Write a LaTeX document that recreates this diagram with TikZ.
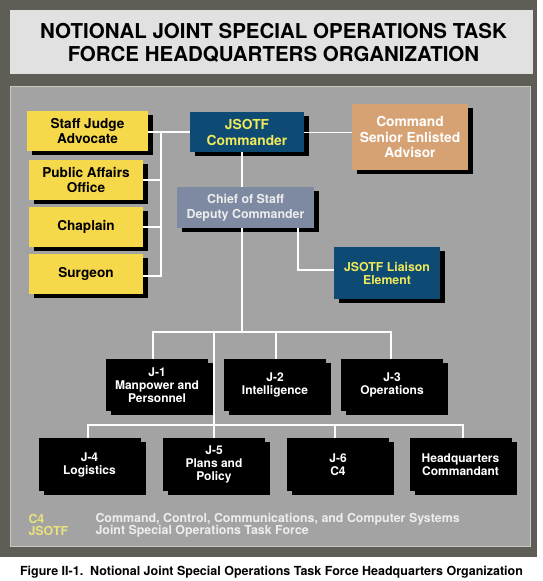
\documentclass[tikz,border=0pt]{standalone}
\usepackage{fontspec}
\setmainfont{TeX Gyre Heros}
\usetikzlibrary{shadows}
\definecolor{framec}{HTML}{5E5D56}
\definecolor{titlebg}{HTML}{E1E1E1}
\definecolor{panelc}{HTML}{A3A3A3}
\definecolor{paneledge}{HTML}{C9C9C2}
\definecolor{yellowbox}{HTML}{F6D84B}
\definecolor{bluebox}{HTML}{0D4A74}
\definecolor{tanbox}{HTML}{D7A273}
\definecolor{slatebox}{HTML}{7E89A2}
\definecolor{yellowtext}{HTML}{F0E95A}
\definecolor{legendyellow}{HTML}{E9E27E}
\definecolor{lighttext}{HTML}{EDEDED}
\tikzset{
  orgbox/.style={draw=none, align=center, inner sep=0pt, font=\bfseries,
    drop shadow={shadow xshift=5pt, shadow yshift=-4pt, fill=black, opacity=1}},
  yellowb/.style={orgbox, fill=yellowbox, text=black, minimum width=114pt, minimum height=40pt,
    font=\fontsize{13.6}{15}\selectfont\bfseries},
  blackb/.style={orgbox, fill=black, text=white, minimum width=102pt, minimum height=52pt,
    font=\fontsize{12}{13}\selectfont\bfseries},
  conn/.style={draw=white, line width=1.6pt},
}
\begin{document}
\begin{tikzpicture}[x=1pt,y=-1pt]
\useasboundingbox (0,0) rectangle (543,581);
\fill[white] (0,0) rectangle (543,581);
\fill[framec] (0,0) rectangle (537,557);
\fill[titlebg] (10,10) rectangle (533,74);
\filldraw[fill=panelc, draw=paneledge, line width=0.8pt] (10.4,86.4) rectangle (530.6,546.6);

\node[align=center, font=\fontsize{20.5}{22.8}\selectfont\bfseries] (title) at (273.5,43)
  {NOTIONAL JOINT SPECIAL OPERATIONS TASK\\FORCE HEADQUARTERS ORGANIZATION};

% left staff
\node[yellowb, minimum width=121pt] (sja) at (87.5,131) {Staff Judge\\Advocate};
\node[yellowb] (pao) at (86,180) {Public Affairs\\Office};
\node[yellowb] (chap) at (86,227) {Chaplain};
\node[yellowb] (surg) at (86,274) {Surgeon};

% command
\node[orgbox, fill=bluebox, text=yellowtext, minimum width=114pt, minimum height=40pt,
  font=\fontsize{13.8}{16}\selectfont\bfseries] (cmd) at (247,132) {JSOTF\\Commander};
\node[orgbox, fill=tanbox, text=white, minimum width=116pt, minimum height=66pt,
  font=\fontsize{13.8}{15.5}\selectfont\bfseries] (csea) at (410,137) {Command\\Senior Enlisted\\Advisor};
\node[orgbox, fill=slatebox, text=lighttext, minimum width=137pt, minimum height=41pt,
  font=\fontsize{12.4}{14.8}\selectfont\bfseries] (cos) at (245.5,207.5) {Chief of Staff\\Deputy Commander};
\node[orgbox, fill=bluebox, text=yellowtext, minimum width=106pt, minimum height=52pt,
  font=\fontsize{12.3}{13}\selectfont\bfseries] (lia) at (387,273) {JSOTF Liaison\\Element};

% J staff
\node[blackb] (j1) at (157,385) {J-1\\Manpower and\\Personnel};
\node[blackb] (j2) at (275,385) {J-2\\Intelligence};
\node[blackb] (j3) at (392,385) {J-3\\Operations};
\node[blackb, minimum height=53pt] (j4) at (89.5,464.5) {J-4\\Logistics};
\node[blackb, minimum height=53pt] (j5) at (214,464.5) {J-5\\Plans and\\Policy};
\node[blackb, minimum height=53pt] (j6) at (338,464.5) {J-6\\C4};
\node[blackb, minimum height=53pt] (hq) at (460.5,464.5) {Headquarters\\Commandant};

% connectors
\coordinate (sbus) at (161,132);
\coordinate (trunk) at (242,332);
\coordinate (trunk2) at (214,425);
\coordinate (liab) at (298,270);

\draw[conn] (sja.east |- sbus) -- (cmd.west |- sbus);
\draw[conn] (sbus) |- (pao.east |- 0,180);
\draw[conn] (sbus) |- (chap.east);
\draw[conn] (sbus) |- (surg.east |- 0,276);
\draw[conn] (cmd.east |- 0,132.5) -- (csea.west |- 0,132.5);
\draw[conn] (cmd.south -| trunk) -- (cos.north -| trunk);
\draw[conn] (cos.south -| trunk) -- (trunk);
\draw[conn] (cos.south -| liab) |- (lia.west |- liab);
\draw[conn] (j1.north -| 153,0) |- (trunk);
\draw[conn] (trunk) -| (j3.north -| 391,0);
\draw[conn] (j2.north -| 276,0) -- (276,332);
\draw[conn] (trunk2 |- trunk) -- (trunk2);
\draw[conn] (j4.north -| 88,0) |- (trunk2);
\draw[conn] (trunk2) -| (hq.north -| 463,0);
\draw[conn] (trunk2) -- (j5.north -| trunk2);
\draw[conn] (j6.north -| 335,0) -- (335,425);

% legend
\node[anchor=west, align=left, text=legendyellow, font=\fontsize{12.4}{12}\selectfont\bfseries] (lgk) at (25,525) {C4\\JSOTF};
\node[anchor=west, align=left, text=lighttext, font=\fontsize{12.4}{12}\selectfont\bfseries] (lgv) at (92,525)
  {Command, Control, Communications, and Computer Systems\\Joint Special Operations Task Force};

% caption
\node[font=\fontsize{12.5}{14}\selectfont\bfseries] (cap) at (271.5,572.5)
  {Figure II-1.\ \ Notional Joint Special Operations Task Force Headquarters Organization};
\end{tikzpicture}
\end{document}
